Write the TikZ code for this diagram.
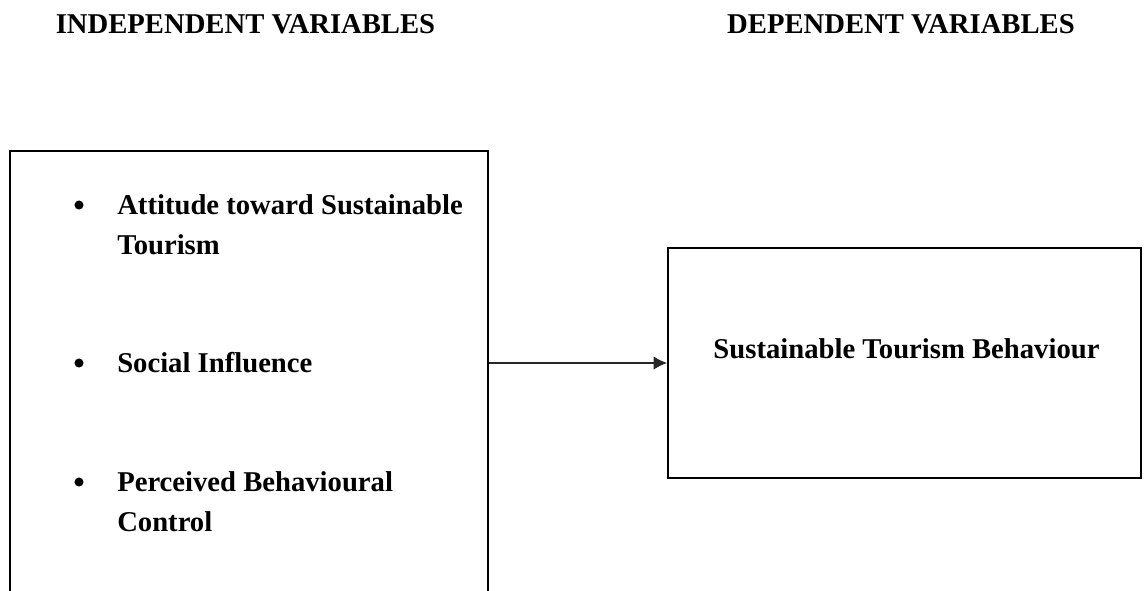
\documentclass[tikz,border=0pt]{standalone}
\usepackage{fontspec}
\setmainfont{Liberation Serif}
\usetikzlibrary{arrows.meta}

\tikzset{
  heading/.style={font=\fontsize{21.5}{25}\selectfont\bfseries, anchor=base, inner sep=0pt},
  itemtext/.style={font=\fontsize{21.5}{25}\selectfont\bfseries, anchor=base west, inner sep=0pt},
  bulletdot/.style={circle, fill=black, inner sep=0pt, minimum size=6.8pt},
  varbox/.style={draw=black, line width=1.5pt, rectangle, inner sep=0pt},
  link/.style={draw=black!85, line width=0.9pt, -{Latex[length=10pt,width=10pt]}}
}

\begin{document}
\begin{tikzpicture}[x=0.75pt, y=-0.75pt]
  \useasboundingbox (0,0) rectangle (1146,590);
  \fill[white] (0,0) rectangle (1146,590);
  \clip (0,0) rectangle (1146,590);

  % column headings
  \node[heading] (hind) at (245.5,33) {INDEPENDENT VARIABLES};
  \node[heading] (hdep) at (901,33) {DEPENDENT VARIABLES};

  % independent variables box (runs past the lower edge)
  \node[varbox, minimum width=358.5pt, minimum height=345pt] (lbox) at (249,381) {};

  % dependent variable box
  \node[varbox, minimum width=354.75pt, minimum height=172.5pt] (rbox) at (904.5,363) {};
  \node[heading] (dep) at (906.5,358.5) {Sustainable Tourism Behaviour};

  % bulleted list of predictors
  \node[bulletdot] (b1) at (79,205) {};
  \node[itemtext] (i1a) at (117,214) {Attitude toward Sustainable};
  \node[itemtext] (i1b) at (117,254) {Tourism};

  \node[bulletdot] (b2) at (79,363) {};
  \node[itemtext] (i2) at (117,372) {Social Influence};

  \node[bulletdot] (b3) at (79,482) {};
  \node[itemtext] (i3a) at (117,491) {Perceived Behavioural};
  \node[itemtext] (i3b) at (117,531) {Control};

  % influence arrow
  \draw[link] (rbox.west -| lbox.east) -- (rbox.west);
\end{tikzpicture}
\end{document}
